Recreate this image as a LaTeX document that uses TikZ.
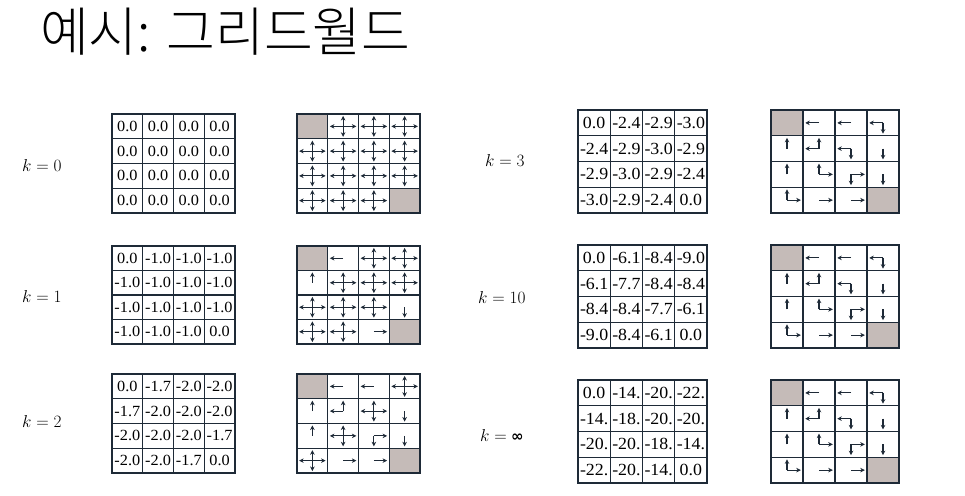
\documentclass[tikz,border=0pt]{standalone}
\usepackage{fontspec}
\usepackage{graphicx}
\setmainfont{Liberation Serif}
\newfontfamily\krfont{Noto Sans CJK KR}[UprightFont={* Light}]
\newfontfamily\djv{DejaVu Sans}
\usetikzlibrary{arrows.meta}
\definecolor{ink}{RGB}{30,42,55}
\definecolor{termgray}{RGB}{197,187,184}
\tikzset{
  gridline/.style={draw=ink, line width=1.4pt},
  parrow/.style={draw=ink, line width=1.2pt, -{Stealth[length=4.5pt,width=4.5pt]}},
  term/.style={fill=termgray},
  valtext/.style={inner sep=0pt, text=black},
  klabel/.style={anchor=west, inner sep=0pt, font=\fontsize{17.5}{20}\selectfont},
}
\newcommand\gridlinesx[4]{%
  \draw[gridline] (#1,#2) rectangle (#3,#4);
  \foreach \i in {1,2,3} {
    \draw[gridline] ({#1+(#3-#1)*\i/4},#2) -- ({#1+(#3-#1)*\i/4},#4);
    \draw[gridline] (#1,{#2+(#4-#2)*\i/4}) -- (#3,{#2+(#4-#2)*\i/4});
  }}
\newcommand\vgridd[8]{% name x0 y0 x1 y1 fontsize xstretch values
  \foreach \v [count=\n from 0] in {#8} {
    \pgfmathtruncatemacro\rr{int(\n/4)}
    \pgfmathtruncatemacro\cc{mod(\n,4)}
    \pgfmathsetmacro\cx{#2+(\cc+0.5)*(#4-#2)/4}
    \pgfmathsetmacro\cy{#3+(\rr+0.5)*(#5-#3)/4}
    \node[valtext, font=\fontsize{#6}{#6}\selectfont] (#1-\n) at (\cx,\cy) {\scalebox{#7}[1]{\v}};
  }
  \gridlinesx{#2}{#3}{#4}{#5}}
\newcommand\pdirU{\draw[parrow] (\cx,\cy) -- ++(0,{-0.84*\hh});}
\newcommand\pdirD{\draw[parrow] (\cx,\cy) -- ++(0,{0.84*\hh});}
\newcommand\pdirL{\draw[parrow] (\cx,\cy) -- ++({-0.86*\hw},0);}
\newcommand\pdirR{\draw[parrow] (\cx,\cy) -- ++({0.86*\hw},0);}
\newcommand\pdirT{\fill[term] ({\cx-\hw},{\cy-\hh}) rectangle ({\cx+\hw},{\cy+\hh});}
\newcommand\pgridd[6]{% name x0 y0 x1 y1 codes
  \foreach \pc [count=\n from 0] in {#6} {
    \pgfmathtruncatemacro\rr{int(\n/4)}
    \pgfmathtruncatemacro\cc{mod(\n,4)}
    \pgfmathsetmacro\cx{#2+(\cc+0.5)*(#4-#2)/4}
    \pgfmathsetmacro\cy{#3+(\rr+0.5)*(#5-#3)/4}
    \pgfmathsetmacro\hw{(#4-#2)/8}
    \pgfmathsetmacro\hh{(#5-#3)/8}
    \coordinate (#1-\n) at (\cx,\cy);
    \foreach \d in \pc { \csname pdir\d\endcsname }
  }
  \gridlinesx{#2}{#3}{#4}{#5}}
\begin{document}
\begin{tikzpicture}[x=1pt,y=-1pt]
\fill[white] (0,0) rectangle (965,495);
\useasboundingbox (0,0) rectangle (965,495);

\node[anchor=base west, inner sep=0pt, font=\krfont\fontsize{53}{60}\selectfont] (title) at (40,52) {예시: 그리드월드};

% labels
\node[klabel] (lk0) at (22,165) {$k = 0$};
\node[klabel] (lk1) at (22,296) {$k = 1$};
\node[klabel] (lk2) at (22,421) {$k = 2$};
\node[klabel] (lk3) at (485,160) {$k = 3$};
\node[klabel] (lk10) at (478,297) {$k = 10$};
\node[klabel] (lkinf) at (480,435) {$k =$ {\djv\bfseries\fontsize{15}{15}\selectfont ∞}};

% value grids left
\vgridd{v0}{112}{114}{235}{213}{15.5}{1.05}{0.0,0.0,0.0,0.0,0.0,0.0,0.0,0.0,0.0,0.0,0.0,0.0,0.0,0.0,0.0,0.0}
\vgridd{v1}{112}{246}{235}{344}{15.5}{1.05}{0.0,-1.0,-1.0,-1.0,-1.0,-1.0,-1.0,-1.0,-1.0,-1.0,-1.0,-1.0,-1.0,-1.0,-1.0,0.0}
\vgridd{v2}{112}{374}{235}{473}{15.5}{1.05}{0.0,-1.7,-2.0,-2.0,-1.7,-2.0,-2.0,-2.0,-2.0,-2.0,-2.0,-1.7,-2.0,-2.0,-1.7,0.0}
% value grids right
\vgridd{v3}{578}{110}{707}{213}{17}{1.05}{0.0,-2.4,-2.9,-3.0,-2.4,-2.9,-3.0,-2.9,-2.9,-3.0,-2.9,-2.4,-3.0,-2.9,-2.4,0.0}
\vgridd{v10}{578}{245}{707}{348}{17}{1.05}{0.0,-6.1,-8.4,-9.0,-6.1,-7.7,-8.4,-8.4,-8.4,-8.4,-7.7,-6.1,-9.0,-8.4,-6.1,0.0}
\vgridd{vinf}{578}{380}{707}{483}{17}{1.05}{0.0,-14.,-20.,-22.,-14.,-18.,-20.,-20.,-20.,-20.,-18.,-14.,-22.,-20.,-14.,0.0}

% policy grids left
\pgridd{p0}{297}{114}{420}{213}{T,{U,D,L,R},{U,D,L,R},{U,D,L,R},{U,D,L,R},{U,D,L,R},{U,D,L,R},{U,D,L,R},{U,D,L,R},{U,D,L,R},{U,D,L,R},{U,D,L,R},{U,D,L,R},{U,D,L,R},{U,D,L,R},T}
\pgridd{p1}{297}{246}{420}{344}{T,L,{U,D,L,R},{U,D,L,R},U,{U,D,L,R},{U,D,L,R},{U,D,L,R},{U,D,L,R},{U,D,L,R},{U,D,L,R},D,{U,D,L,R},{U,D,L,R},R,T}
\pgridd{p2}{297}{374}{420}{473}{T,L,L,{U,D,L,R},U,{U,L},{U,D,L,R},D,U,{U,D,L,R},{D,R},D,{U,D,L,R},R,R,T}
% policy grids right
\pgridd{p3}{771}{110}{899}{213}{T,L,L,{L,D},U,{U,L},{L,D},D,U,{U,R},{D,R},D,{U,R},R,R,T}
\pgridd{p10}{771}{245}{899}{348}{T,L,L,{L,D},U,{U,L},{L,D},D,U,{U,R},{D,R},D,{U,R},R,R,T}
\pgridd{pinf}{771}{380}{899}{483}{T,L,L,{L,D},U,{U,L},{L,D},D,U,{U,R},{D,R},D,{U,R},R,R,T}
\end{tikzpicture}
\end{document}
